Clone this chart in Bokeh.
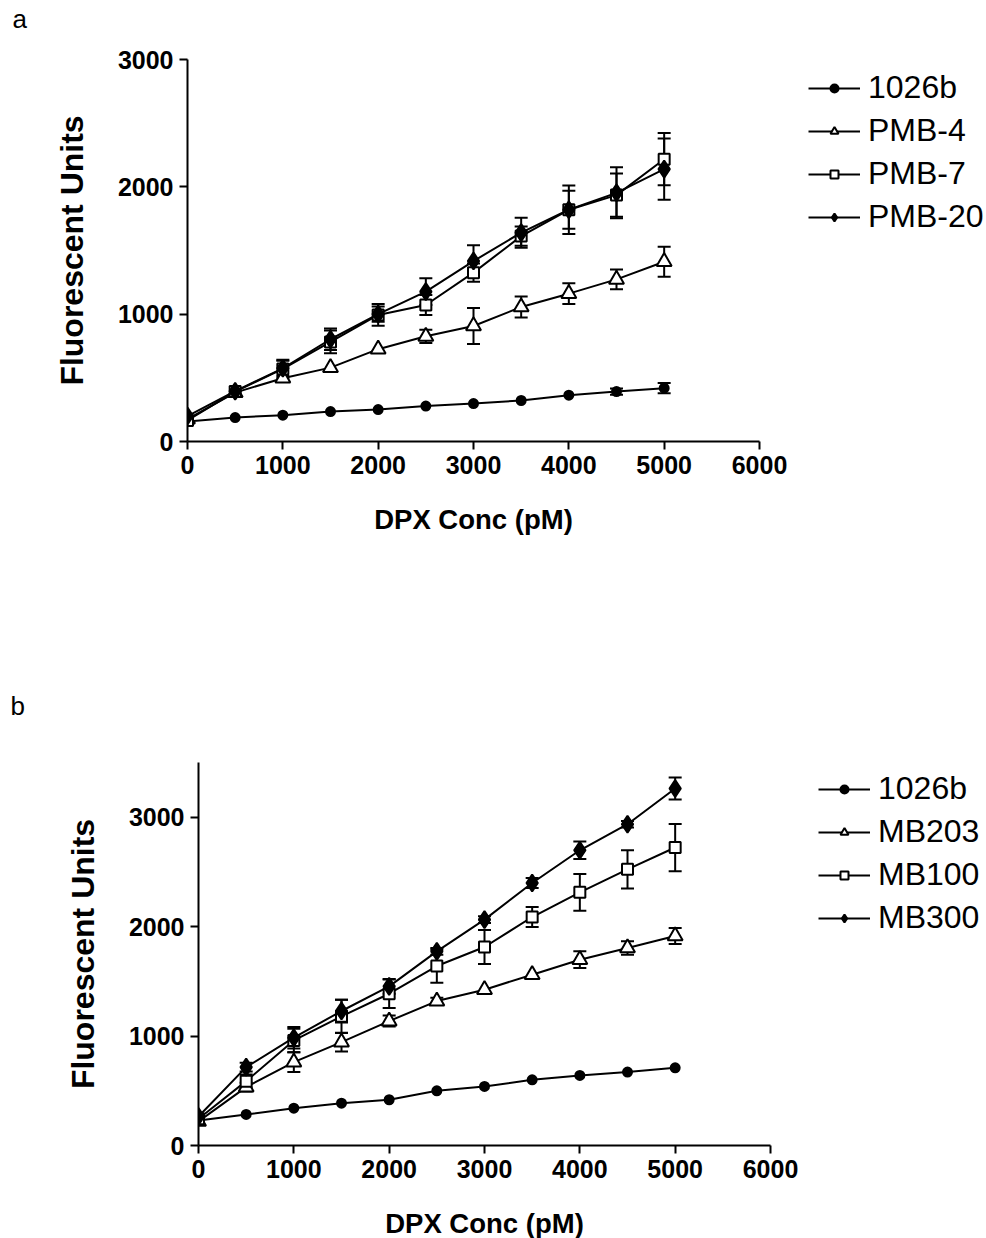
from bokeh.plotting import figure
from bokeh.models import (Range1d, FixedTicker, Whisker, ColumnDataSource, Legend,
                          LegendItem, TeeHead, Title)
from bokeh.embed import file_html
from bokeh.resources import INLINE

# ---------------- data ----------------
dpx_conc = [0, 500, 1000, 1500, 2000, 2500, 3000, 3500, 4000, 4500, 5000]

# panel a
a_names = ["1026b", "PMB-4", "PMB-7", "PMB-20"]
a_1026b = [157, 188, 207, 235, 251, 278, 298, 322, 364, 392, 419]
a_1026b_err = [0, 0, 0, 0, 0, 0, 0, 0, 0, 25, 40]
a_pmb4 = [175, 384, 497, 580, 725, 826, 907, 1056, 1161, 1273, 1412]
a_pmb4_err = [0, 0, 0, 0, 0, 52, 141, 82, 81, 78, 118]
a_pmb7 = [165, 392, 570, 782, 994, 1072, 1326, 1613, 1820, 1935, 2217]
a_pmb7_err = [0, 0, 72, 89, 85, 78, 72, 76, 190, 170, 205]
a_pmb20 = [200, 395, 575, 803, 1000, 1177, 1417, 1640, 1820, 1953, 2139]
a_pmb20_err = [0, 0, 60, 85, 60, 105, 125, 118, 150, 200, 240]

# panel b
b_names = ["1026b", "MB203", "MB100", "MB300"]
b_1026b = [229, 284, 341, 387, 418, 500, 540, 600, 640, 671, 710]
b_1026b_err = [0, 0, 0, 0, 0, 0, 0, 0, 0, 0, 0]
b_mb203 = [220, 534, 762, 945, 1137, 1320, 1424, 1561, 1698, 1805, 1915]
b_mb203_err = [0, 40, 91, 85, 50, 30, 0, 0, 76, 61, 73]
b_mb100 = [244, 588, 960, 1180, 1387, 1640, 1814, 2088, 2314, 2524, 2723]
b_mb100_err = [0, 60, 107, 152, 130, 152, 155, 91, 168, 175, 216]
b_mb300 = [265, 716, 985, 1229, 1454, 1774, 2064, 2399, 2698, 2936, 3262]
b_mb300_err = [0, 40, 98, 104, 67, 30, 30, 46, 79, 30, 101]

x_ticks = [0, 1000, 2000, 3000, 4000, 5000, 6000]
a_y_ticks = [0, 1000, 2000, 3000]
b_y_ticks = [0, 1000, 2000, 3000]

FONT = "Liberation Sans"

styles = [
    dict(marker="circle", size=9, fill_color="black"),
    dict(marker="triangle", size=15, fill_color="white"),
    dict(marker="square", size=11, fill_color="white"),
    dict(marker="diamond", size=17, fill_color="black"),
]


def letter_strip(letter, offset, height=40):
    """A thin, empty strip that only carries the panel letter."""
    f = figure(width=970, height=height, frame_width=572, frame_height=1,
               min_border_left=187, min_border_right=970 - 187 - 572,
               min_border_top=0, min_border_bottom=height - 1,
               x_axis_location=None, y_axis_location=None,
               output_backend="svg", toolbar_location=None)
    f.outline_line_color = None
    f.xgrid.grid_line_color = None
    f.ygrid.grid_line_color = None
    f.add_layout(Title(text=letter, align="left", offset=offset, standoff=0,
                       text_font=FONT, text_font_size="26px",
                       text_font_style="normal", text_color="black"), "below")
    return f


def make_panel(series, names, ymax, yticks, height, border_top, left, frame_h,
               legend_loc):
    right = 970 - left - 572
    p = figure(width=970, height=height, frame_width=572, frame_height=frame_h,
               x_range=Range1d(0, 6000), y_range=Range1d(0, ymax),
               min_border_left=left, min_border_right=right,
               min_border_top=border_top,
               min_border_bottom=height - border_top - frame_h,
               output_backend="svg", toolbar_location=None)
    p.outline_line_color = None
    p.xgrid.grid_line_color = None
    p.ygrid.grid_line_color = None

    for ax in (p.xaxis[0], p.yaxis[0]):
        ax.axis_line_width = 2
        ax.axis_line_color = "black"
        ax.major_tick_line_width = 2
        ax.major_tick_line_color = "black"
        ax.major_tick_out = 8
        ax.major_tick_in = 0
        ax.minor_tick_line_color = None
        ax.major_label_text_font = FONT
        ax.major_label_text_font_style = "bold"
        ax.major_label_text_font_size = "25px"
        ax.major_label_text_color = "black"
        ax.axis_label_text_font = FONT
        ax.axis_label_text_font_style = "bold"
        ax.axis_label_text_color = "black"
    p.xaxis[0].axis_label_text_font_size = "27.5px"
    p.yaxis[0].axis_label_text_font_size = "32px"
    p.xaxis[0].ticker = FixedTicker(ticks=x_ticks)
    p.yaxis[0].ticker = FixedTicker(ticks=yticks)
    p.xaxis[0].axis_label = "DPX Conc (pM)"
    p.yaxis[0].axis_label = "Fluorescent Units"
    p.xaxis[0].axis_label_standoff = 27
    p.yaxis[0].axis_label_standoff = 25
    p.xaxis[0].major_label_standoff = 6
    p.yaxis[0].major_label_standoff = 6

    items = []
    for (ys, errs), name, st in zip(series, names, styles):
        lr = p.line(dpx_conc, ys, line_color="black", line_width=2)
        sel = [i for i, e in enumerate(errs) if e > 0]
        if sel:
            src = ColumnDataSource(dict(
                x=[dpx_conc[i] for i in sel],
                lo=[ys[i] - errs[i] for i in sel],
                hi=[ys[i] + errs[i] for i in sel]))
            w = Whisker(base="x", lower="lo", upper="hi", source=src,
                        line_color="black", line_width=2,
                        upper_head=TeeHead(size=13, line_color="black", line_width=2),
                        lower_head=TeeHead(size=13, line_color="black", line_width=2))
            p.add_layout(w)
        sr = p.scatter(dpx_conc, ys, marker=st["marker"], size=st["size"],
                       fill_color=st["fill_color"], line_color="black",
                       line_width=2)
        items.append(LegendItem(label=name, renderers=[lr, sr]))

    leg = Legend(items=items, location=legend_loc, orientation="vertical",
                 background_fill_alpha=0, border_line_color=None,
                 padding=0, margin=0, spacing=6, glyph_width=52,
                 glyph_height=20, label_standoff=8, label_height=20,
                 label_text_font=FONT, label_text_font_size="32px",
                 label_text_color="black")
    p.add_layout(leg, "right")
    return p


# page layout (pixels from the top): strip a 0-40, panel a 40-687,
# strip b 687-727, panel b 727-1238
fa = letter_strip("a", -175)
pa = make_panel(
    [(a_1026b, a_1026b_err), (a_pmb4, a_pmb4_err), (a_pmb7, a_pmb7_err),
     (a_pmb20, a_pmb20_err)],
    a_names, 3000, a_y_ticks, height=647, border_top=19, left=187, frame_h=382,
    legend_loc=(49, 206))

fb = letter_strip("b", -177)
pb = make_panel(
    [(b_1026b, b_1026b_err), (b_mb203, b_mb203_err), (b_mb100, b_mb100_err),
     (b_mb300, b_mb300_err)],
    b_names, 3500, b_y_ticks, height=511, border_top=35, left=198, frame_h=383,
    legend_loc=(48, 209))

open("out.html", "w").write(file_html([fa, pa, fb, pb], INLINE))
